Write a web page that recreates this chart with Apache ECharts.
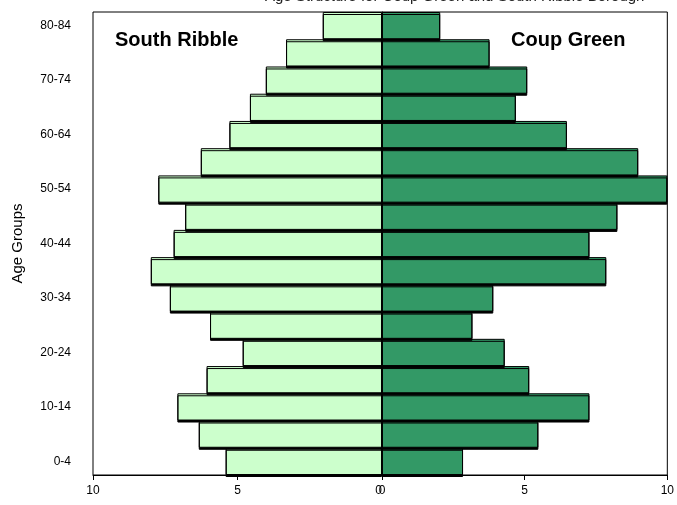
<!DOCTYPE html>
<html>
<head>
<meta charset="utf-8">
<script src="https://cdn.jsdelivr.net/npm/echarts@6/dist/echarts.min.js"></script>
<style>html,body{margin:0;padding:0;background:#fff;overflow:hidden}#c{width:677px;height:505px}</style>
</head>
<body>
<div id="c"></div>
<script>
var categories = ['0-4','5-9','10-14','15-19','20-24','25-29','30-34','35-39','40-44','45-49','50-54','55-59','60-64','65-69','70-74','75-79','80-84'];
var southRibble = [5.41,6.34,7.08,6.07,4.82,5.95,7.34,8.00,7.21,6.81,7.74,6.27,5.28,4.57,4.02,3.32,2.05];
var coupGreen = [2.84,5.48,7.27,5.16,4.30,3.17,3.90,7.86,7.27,8.25,10.0,8.98,6.48,4.69,5.09,3.77,2.04];
var titleText = 'Age Structure for Coup Green and South Ribble Borough';
var yTitle = 'Age Groups';
var leftName = 'South Ribble';
var rightName = 'Coup Green';

var font = 'Liberation Sans, Arial, sans-serif';
var chart = echarts.init(document.getElementById('c'), null, {renderer: 'canvas', width: 677, height: 505});
var barStyle = function (color) {
  return {
    color: color, borderColor: '#000', borderWidth: 1,
    shadowColor: '#000', shadowOffsetY: 2, shadowOffsetX: 0, shadowBlur: 0
  };
};
chart.setOption({
  animation: false,
  backgroundColor: '#fff',
  graphic: [
    {type: 'text', z: 100, style: {x: 265, y: 4, text: titleText, font: '15px ' + font, fill: '#222', verticalAlign: 'bottom'}},
    {type: 'text', z: 100, style: {x: 115, y: 40, text: leftName, font: 'bold 20px ' + font, fill: '#000', verticalAlign: 'middle'}},
    {type: 'text', z: 100, style: {x: 511, y: 40, text: rightName, font: 'bold 20px ' + font, fill: '#000', verticalAlign: 'middle'}}
  ],
  grid: [
    {left: 93, width: 289, top: 12, height: 463, show: true, borderColor: '#000', borderWidth: 1, backgroundColor: 'transparent'},
    {left: 382, width: 289, top: 12, height: 463, show: true, borderColor: '#000', borderWidth: 1, backgroundColor: 'transparent'}
  ],
  xAxis: [
    {gridIndex: 0, type: 'value', inverse: true, min: 0, max: 10, interval: 5,
     splitLine: {show: false},
     axisLine: {show: true, lineStyle: {color: '#000', width: 1}},
     axisTick: {show: true, length: 5, lineStyle: {color: '#000'}},
     axisLabel: {color: '#000', fontSize: 12, fontFamily: font, margin: 10,
       formatter: function (v) { return v === 0 ? '{z|0}' : String(v); },
       rich: {z: {color: '#000', fontSize: 12, fontFamily: font, padding: [0, 7, 0, 0]}}}},
    {gridIndex: 1, type: 'value', min: 0, max: 10, interval: 5,
     splitLine: {show: false},
     axisLine: {show: true, lineStyle: {color: '#000', width: 1}},
     axisTick: {show: true, length: 5, lineStyle: {color: '#000'}},
     axisLabel: {color: '#000', fontSize: 12, fontFamily: font, margin: 10}}
  ],
  yAxis: [
    {gridIndex: 0, type: 'category', data: categories,
     name: yTitle, nameLocation: 'middle', nameGap: 68, nameRotate: 90,
     nameTextStyle: {color: '#000', fontSize: 15, fontFamily: font},
     axisLine: {show: true, lineStyle: {color: '#000'}},
     axisTick: {show: false},
     axisLabel: {interval: 1, color: '#000', fontSize: 12, fontFamily: font, margin: 22}},
    {gridIndex: 1, type: 'category', data: categories, show: false}
  ],
  series: [
    {name: leftName, type: 'bar', xAxisIndex: 0, yAxisIndex: 0, data: southRibble,
     barCategoryGap: '0%', itemStyle: barStyle('#CCFFCC')},
    {name: rightName, type: 'bar', xAxisIndex: 1, yAxisIndex: 1, data: coupGreen,
     barCategoryGap: '0%', itemStyle: barStyle('#339966')}
  ]
});
</script>
</body>
</html>
